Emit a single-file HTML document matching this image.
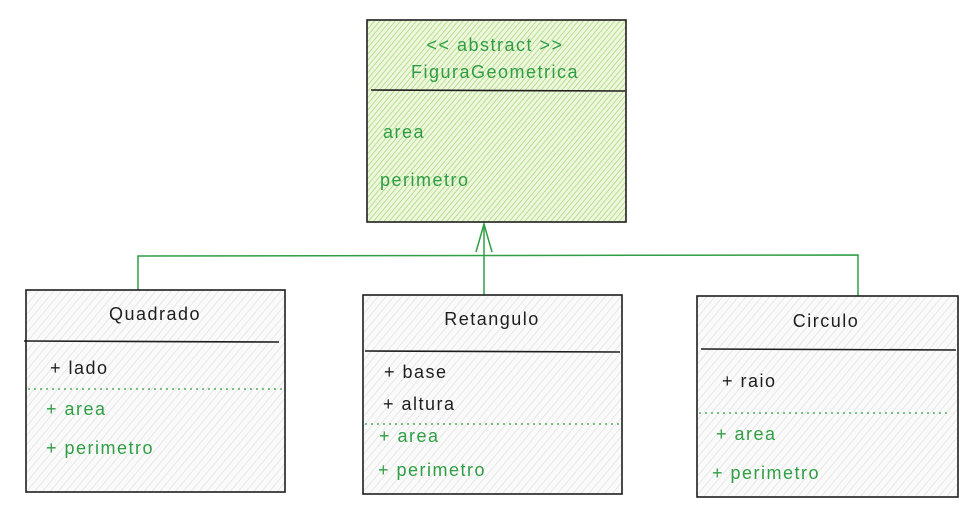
<!DOCTYPE html>
<html><head><meta charset="utf-8"><style>
html,body{margin:0;padding:0;background:#fff;}
svg{display:block;}
text{font-family:"Liberation Sans",sans-serif;font-size:18px;letter-spacing:1.5px;}
.b{fill:#1e1e1e}.g{fill:#2f9e44}
</style></head><body>
<svg width="979" height="513" viewBox="0 0 979 513" xmlns="http://www.w3.org/2000/svg">
<defs>
<pattern id="hg" width="4" height="4" patternUnits="userSpaceOnUse" patternTransform="rotate(40)">
<rect width="4" height="4" fill="#eef7e0"/><line x1="0" y1="0" x2="0" y2="4" stroke="#a8d86e" stroke-width="1.5"/></pattern>
<pattern id="hn" width="6" height="6" patternUnits="userSpaceOnUse" patternTransform="rotate(40)">
<rect width="6" height="6" fill="#fafafa"/><line x1="0" y1="0" x2="0" y2="6" stroke="#dcdcdc" stroke-width="1.2"/></pattern>
</defs>
<g stroke="#2f9e44" stroke-width="1.5" fill="none">
<path d="M138 290 L138 256 L858 255 L858 296"/>
<path d="M484 295 L484 224"/>
<path d="M476 252 L484 224 L492 252"/>
</g>
<rect x="367" y="20" width="259" height="202" fill="url(#hg)" stroke="#1e1e1e" stroke-width="1.6"/>
<line x1="371" y1="90" x2="625" y2="91" stroke="#1e1e1e" stroke-width="1.6"/>
<text x="495" y="51" text-anchor="middle" class="g">&lt;&lt; abstract &gt;&gt;</text>
<text x="495" y="78" text-anchor="middle" class="g">FiguraGeometrica</text>
<text x="383" y="138" class="g">area</text>
<text x="380" y="186" class="g">perimetro</text>
<rect x="26" y="290" width="259" height="202" fill="url(#hn)" stroke="#1e1e1e" stroke-width="1.6"/>
<line x1="24" y1="341" x2="279" y2="342" stroke="#1e1e1e" stroke-width="1.6"/>
<text x="155" y="320" text-anchor="middle" class="b">Quadrado</text>
<text x="50" y="374" class="b">+ lado</text>
<line x1="28" y1="389" x2="282" y2="389" stroke="#2f9e44" stroke-width="1.3" stroke-dasharray="2 4"/>
<text x="46" y="415" class="g">+ area</text>
<text x="46" y="454" class="g">+ perimetro</text>
<rect x="363" y="295" width="259" height="199" fill="url(#hn)" stroke="#1e1e1e" stroke-width="1.6"/>
<line x1="365" y1="351" x2="620" y2="352" stroke="#1e1e1e" stroke-width="1.6"/>
<text x="492" y="325" text-anchor="middle" class="b">Retangulo</text>
<text x="384" y="378" class="b">+ base</text>
<text x="383" y="410" class="b">+ altura</text>
<line x1="365" y1="424" x2="620" y2="424" stroke="#2f9e44" stroke-width="1.3" stroke-dasharray="2 4"/>
<text x="379" y="442" class="g">+ area</text>
<text x="378" y="476" class="g">+ perimetro</text>
<rect x="697" y="296" width="261" height="201" fill="url(#hn)" stroke="#1e1e1e" stroke-width="1.6"/>
<line x1="701" y1="349" x2="956" y2="350" stroke="#1e1e1e" stroke-width="1.6"/>
<text x="826" y="327" text-anchor="middle" class="b">Circulo</text>
<text x="722" y="387" class="b">+ raio</text>
<line x1="699" y1="413" x2="948" y2="413" stroke="#2f9e44" stroke-width="1.3" stroke-dasharray="2 4"/>
<text x="716" y="440" class="g">+ area</text>
<text x="712" y="479" class="g">+ perimetro</text>
</svg>
</body></html>
